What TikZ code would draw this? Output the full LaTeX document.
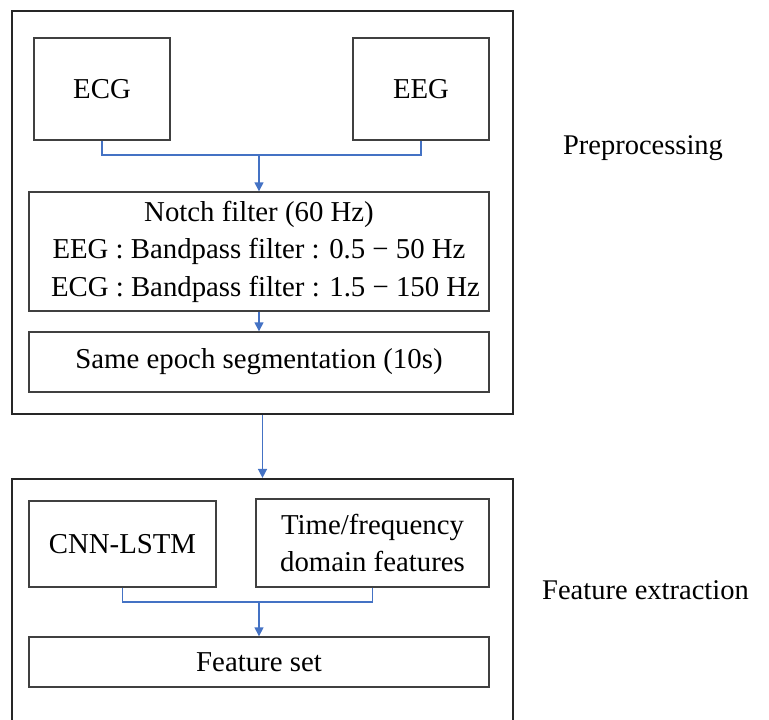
\documentclass[tikz,border=0pt]{standalone}
\usepackage{fontspec}
\setmainfont{Liberation Serif}
\usetikzlibrary{arrows.meta}
\definecolor{lineblue}{HTML}{4472C4}
\definecolor{boxgray}{HTML}{404040}
\begin{document}
\begin{tikzpicture}[x=1pt,y=-1pt,
  outerbox/.style={draw=black!85, line width=2.2pt, rectangle, inner sep=0pt},
  innerbox/.style={draw=boxgray, line width=1.4pt, rectangle, inner sep=0pt, align=center,
    font=\fontsize{28.8}{37.5}\selectfont},
  lbl/.style={font=\fontsize{28.5}{37.5}\selectfont, inner sep=0pt},
  conn/.style={draw=lineblue, line width=1.5pt},
  arr/.style={conn, -{Triangle[length=9pt,width=9pt]}}]
\useasboundingbox (0,0) rectangle (769,720);
% outer groups
\node[outerbox, minimum width=501pt, minimum height=403pt] (pre) at (262.5,212.5) {};
\node[outerbox, minimum width=501pt, minimum height=261pt] (fe) at (262.5,609.5) {};
% preprocessing boxes
\node[innerbox, minimum width=136pt, minimum height=102pt] (ecg) at (102,89) {ECG};
\node[innerbox, minimum width=136pt, minimum height=102pt] (eeg) at (421,89) {EEG};
\node[innerbox, minimum width=460pt, minimum height=119pt] (notch) at (259,251.5)
  {Notch filter (60 Hz)\\EEG : Bandpass filter : 0.5 − 50 Hz\\\hspace{13pt}ECG : Bandpass filter : 1.5 − 150 Hz};
\node[innerbox, minimum width=460pt, minimum height=60pt] (seg) at (259,362) {\raisebox{-4pt}{Same epoch segmentation (10s)}};
% feature extraction boxes
\node[innerbox, minimum width=187pt, minimum height=86pt] (cnn) at (122.5,544) {CNN-LSTM};
\node[innerbox, minimum width=233pt, minimum height=88pt] (tf) at (372.5,543) {Time/frequency\\domain features};
\node[innerbox, minimum width=460pt, minimum height=50pt] (fs) at (259,662) {\raisebox{-2pt}{Feature set}};
% side labels
\node[lbl] (lpre) at (643,148) {Preprocessing};
\node[lbl] (lfe) at (645.5,590) {Feature extraction};
% connectors
\coordinate (j1) at (259,155);
\coordinate (j2) at (259,602);
\draw[conn] (ecg.south) |- (j1);
\draw[conn] (eeg.south) |- (j1);
\draw[arr] (j1) -- (notch.north);
\draw[arr] (notch.south) -- (seg.north);
\draw[arr] (pre.south) -- (fe.north);
\draw[conn] (cnn.south) |- (j2);
\draw[conn] (tf.south) |- (j2);
\draw[arr] (j2) -- (fs.north);
\end{tikzpicture}
\end{document}
